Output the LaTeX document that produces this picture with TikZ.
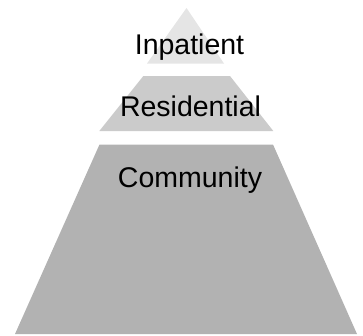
\documentclass[tikz,border=0pt]{standalone}
\usepackage{fontspec}
\setmainfont{Liberation Sans}
\usepackage{tikz}
\usetikzlibrary{positioning}

\definecolor{tiertop}{HTML}{E5E5E5}
\definecolor{tiermid}{HTML}{CBCBCB}
\definecolor{tierlow}{HTML}{B2B2B2}

\begin{document}
\begin{tikzpicture}[
    x=1pt, y=-1pt,
    tier/.style={draw=none},
    tiertext/.style={anchor=base, inner sep=0pt, text=black, font=\fontsize{28.5}{34}\selectfont}
]
\useasboundingbox (0,0) rectangle (363,335);

% Tier 1: top triangle
\fill[tier, tiertop] (186.5,8) -- (224,63.5) -- (147,63.5) -- cycle;
% Tier 2: middle band
\fill[tier, tiermid] (143.3,76) -- (230,76) -- (273.3,131) -- (99.3,131) -- cycle;
% Tier 3: base band
\fill[tier, tierlow] (99.5,144.5) -- (273,144.5) -- (357,334) -- (15,334) -- cycle;

% Labels
\node[tiertext] (inpat) at (189.5,54) {Inpatient};
\node[tiertext] (resid) at (190.5,116.7) {Residential};
\node[tiertext] (commu) at (190,187.5) {Community};

\end{tikzpicture}
\end{document}
